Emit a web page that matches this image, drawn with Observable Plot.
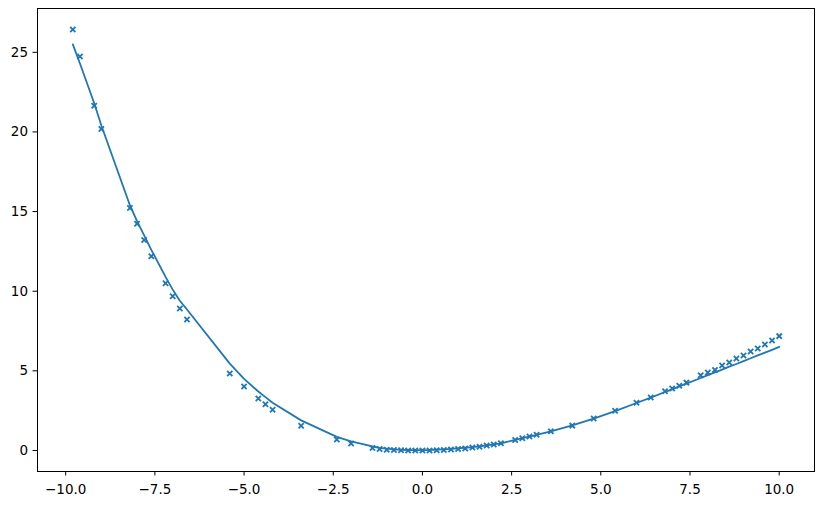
<!DOCTYPE html>
<html>
<head>
<meta charset="utf-8">
<script src="https://cdn.jsdelivr.net/npm/d3@7"></script>
<script src="https://cdn.jsdelivr.net/npm/@observablehq/plot@0.6"></script>
<style>
  html, body { margin: 0; padding: 0; background: white; }
  #chart svg text { font-family: "DejaVu Sans", sans-serif !important; font-size: 13.5px !important; }
</style>
</head>
<body>
<div id="chart"></div>
<script>
const xValues = [-9.8, -9.6, -9.2, -9.0, -8.2, -8.0, -7.8, -7.6, -7.2, -7.0, -6.8, -6.6,
  -5.4, -5.0, -4.6, -4.4, -4.2, -3.4, -2.4, -2.0, -1.4, -1.2, -1.0, -0.8, -0.6, -0.4,
  -0.2, 0.0, 0.2, 0.4, 0.6, 0.8, 1.0, 1.2, 1.4, 1.6, 1.8, 2.0, 2.2, 2.6, 2.8, 3.0,
  3.2, 3.6, 4.2, 4.8, 5.4, 6.0, 6.4, 6.8, 7.0, 7.2, 7.4, 7.8, 8.0, 8.2, 8.4, 8.6,
  8.8, 9.0, 9.2, 9.4, 9.6, 9.8, 10.0];

const observed = [26.43, 24.73, 21.64, 20.19, 15.22, 14.23, 13.22, 12.2, 10.5, 9.68, 8.92, 8.23,
  4.83, 4.01, 3.26, 2.9, 2.56, 1.55, 0.69, 0.44, 0.15, 0.09, 0.05, 0.03, 0.01, 0.0,
  0.0, 0.0, 0.0, 0.01, 0.03, 0.06, 0.09, 0.13, 0.18, 0.24, 0.31, 0.38, 0.46, 0.66, 0.77, 0.88,
  0.99, 1.2, 1.56, 2.01, 2.5, 3.0, 3.32, 3.72, 3.89, 4.07, 4.26, 4.72, 4.89, 5.06, 5.33, 5.52,
  5.77, 5.96, 6.22, 6.40, 6.66, 6.91, 7.18];

const fitted = [25.5, 24.3, 21.8, 20.4, 15.4, 14.4, 13.5, 12.6, 10.9, 10.1, 9.4, 8.85,
  5.45, 4.5, 3.7, 3.35, 3.0, 1.89, 0.85, 0.57, 0.25, 0.17, 0.11, 0.07, 0.04, 0.03,
  0.02, 0.02, 0.03, 0.05, 0.07, 0.1, 0.13, 0.17, 0.21, 0.26, 0.32, 0.38, 0.45, 0.67, 0.77, 0.87,
  0.98, 1.2, 1.57, 2.0, 2.47, 2.98, 3.32, 3.67, 3.84, 4.02, 4.2, 4.55, 4.73, 4.9, 5.08, 5.26,
  5.43, 5.61, 5.79, 5.97, 6.14, 6.32, 6.5];

const xTicks = [-10, -7.5, -5, -2.5, 0, 2.5, 5, 7.5, 10];
const yTicks = [0, 5, 10, 15, 20, 25];

const rows = xValues.map((x, i) => ({x, y: observed[i], fit: fitted[i]}));
const color = "#1f77b4";
const minus = s => s.replace("-", "\u2212");

const chart = Plot.plot({
  width: 822,
  height: 505,
  marginLeft: 37,
  marginRight: 8,
  marginTop: 8,
  marginBottom: 34,
  style: {fontFamily: "DejaVu Sans", fontSize: "13.5px", background: "white", color: "black"},
  x: {domain: [-10.79, 10.99]},
  y: {domain: [-1.32, 27.75]},
  marks: [
    Plot.axisX({ticks: xTicks, tickSize: 4.5, tickPadding: 8, fontSize: 13.5,
      tickFormat: d => minus(d.toFixed(1)), label: null}),
    Plot.axisY({ticks: yTicks, tickSize: 4.5, tickPadding: 5, fontSize: 13.5,
      tickFormat: d => minus(String(d)), label: null}),
    Plot.line(rows, {x: "x", y: "fit", stroke: color, strokeWidth: 1.8}),
    Plot.dot(rows, {x: "x", y: "y", symbol: "times", stroke: color, r: 2.5, strokeWidth: 1.8}),
    Plot.frame({stroke: "black", strokeWidth: 1})
  ]
});
document.getElementById("chart").appendChild(chart);
</script>
</body>
</html>
